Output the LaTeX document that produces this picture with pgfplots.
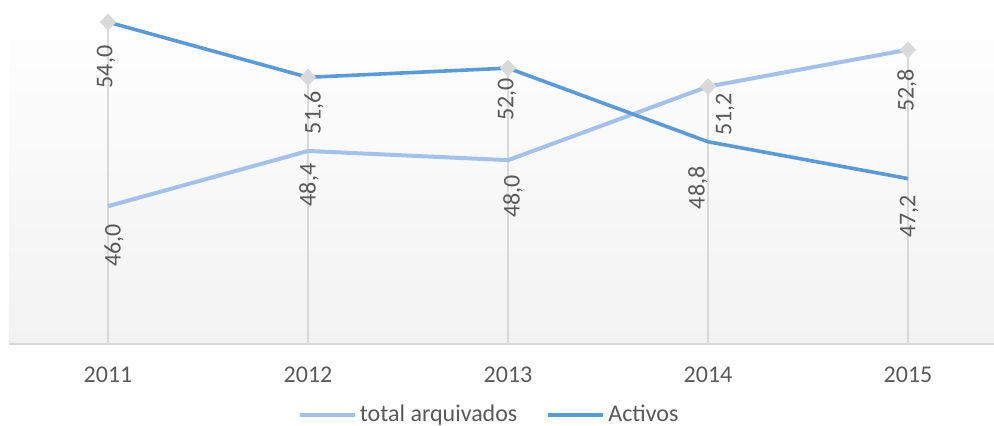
\documentclass[border=0pt]{standalone}
\usepackage{pgfplots}
\pgfplotsset{compat=1.18}
\usepackage{pgfplotstable}
\usepackage{fontspec}
\setmainfont{Carlito}
\definecolor{lightser}{HTML}{A4C2E8}
\definecolor{darkser}{HTML}{5B9BD5}
\definecolor{txt}{HTML}{595959}
\definecolor{gridc}{HTML}{D9D9D9}
\definecolor{bgbot}{HTML}{F2F2F2}

\pgfplotstableread{
x y dx dy lab
0 46.0 6 39.5 46,0
1 48.4 1 34 48,4
2 48.0 5 36 48,0
3 51.2 17 28 51,2
4 52.8 -1 41 52,8
}\totaltab

\pgfplotstableread{
x y dx dy lab
0 54.0 -2 45 54,0
1 51.6 6 35.5 51,6
2 52.0 -1 31 52,0
3 48.8 -10 46 48,8
4 47.2 1 38 47,2
}\activtab

\pgfplotstableread{
x y
0 54.0
1 51.6
2 52.0
3 51.2
4 52.8
}\maxtab

\begin{document}
\begin{tikzpicture}
\useasboundingbox (0,0) rectangle (497pt,213pt);
\begin{axis}[
  at={(4.5pt,40.85pt)}, anchor=south west,
  scale only axis,
  width=492.5pt, height=172.15pt,
  xmin=-0.495, xmax=4.43,
  ymin=40, ymax=54.96,
  axis x line=bottom,
  axis y line=none,
  axis line style={gridc, line width=1pt, -},
  xtick={0,1,2,3,4},
  xticklabels={2011,2012,2013,2014,2015},
  major tick length=0pt,
  xticklabel style={anchor=center, yshift=-15.5pt, text=txt, font=\fontsize{12}{14}\selectfont},
  /pgf/number format/assume math mode=true,
  axis background/.style={shade, top color=white, bottom color=bgbot},
  legend style={at={(0.488,-0.2053)}, anchor=center, draw=none, fill=none,
    legend columns=2, font=\fontsize{12}{14}\selectfont, text=txt,
    /tikz/every even column/.append style={column sep=13pt},
    nodes={inner sep=1.5pt}},
  legend image code/.code={\draw[#1, line width=2pt] (0pt,0pt) -- (27.5pt,0pt);},
  nodes near coords style={font=\fontsize{12}{14}\selectfont, text=txt},
]
\addplot[ycomb, gridc, line width=1pt, mark=diamond*, mark size=3.5pt,
  mark options={xscale=1.3, fill=gridc, draw=gridc}, forget plot] table[x=x, y=y] {\maxtab};

\addplot[lightser, line width=2pt, line join=round,
  point meta=explicit symbolic,
  visualization depends on={\thisrow{dx}\as\dx},
  visualization depends on={\thisrow{dy}\as\dy},
  nodes near coords,
  nodes near coords style={xshift=\dx*0.5pt, yshift=-\dy*0.5pt, anchor=center, rotate=90, inner sep=0pt}]
  table[x=x, y=y, meta=lab] {\totaltab};
\addlegendentry{total arquivados}

\addplot[darkser, line width=1.8pt, line join=round,
  point meta=explicit symbolic,
  visualization depends on={\thisrow{dx}\as\dx},
  visualization depends on={\thisrow{dy}\as\dy},
  nodes near coords,
  nodes near coords style={xshift=\dx*0.5pt, yshift=-\dy*0.5pt, anchor=center, rotate=90, inner sep=0pt}]
  table[x=x, y=y, meta=lab] {\activtab};
\addlegendentry{Activos}
\end{axis}
\end{tikzpicture}
\end{document}
